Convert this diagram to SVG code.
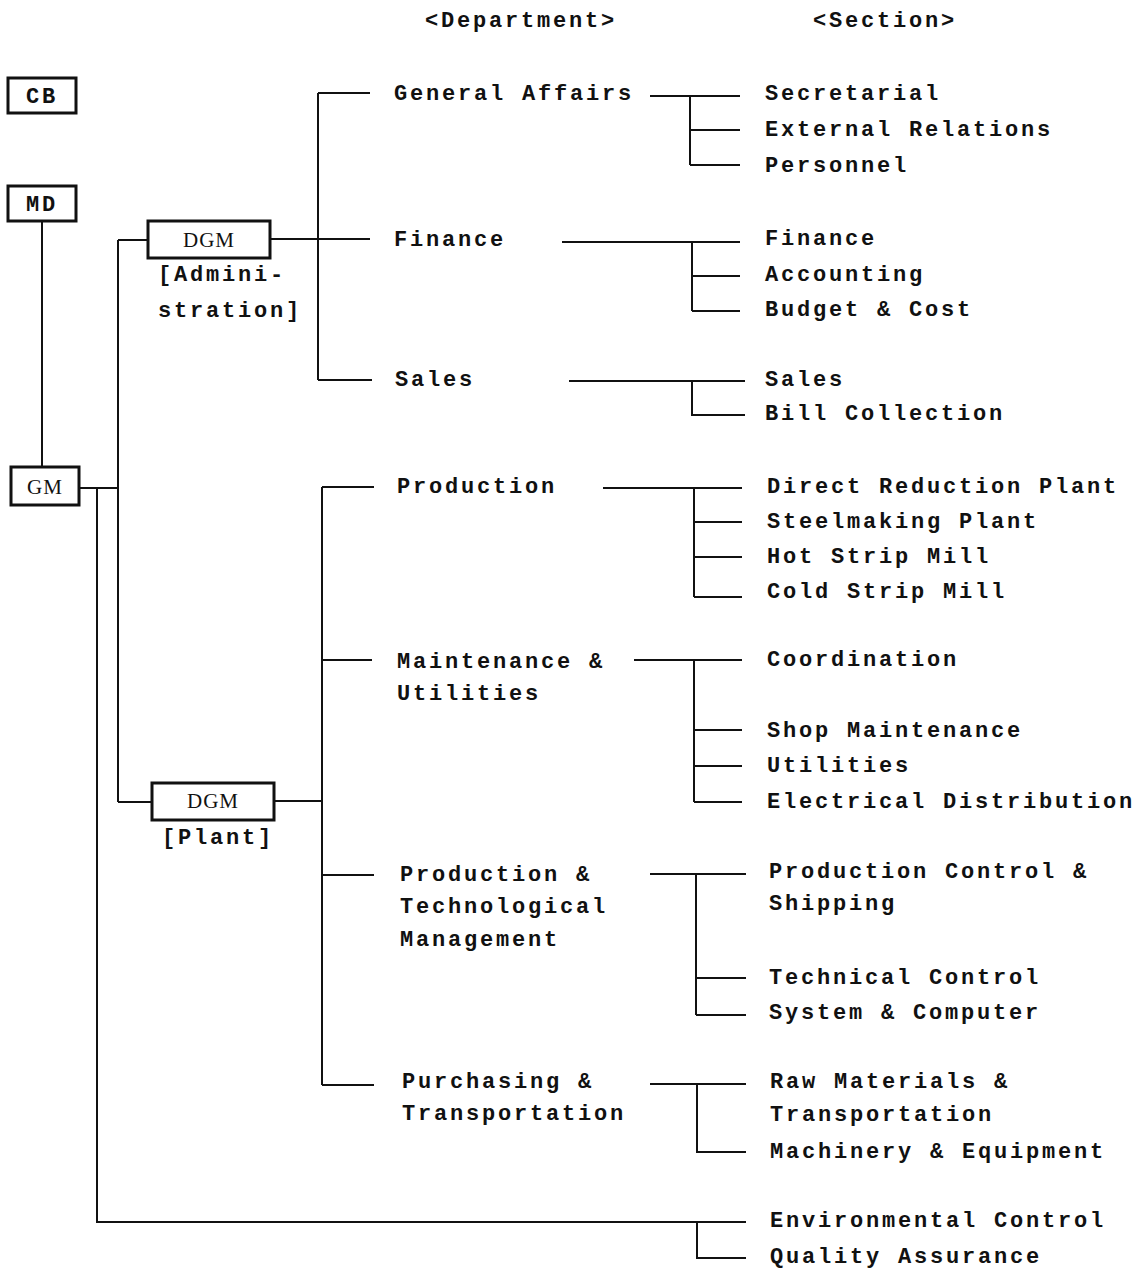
<svg xmlns="http://www.w3.org/2000/svg" width="1144" height="1269" viewBox="0 0 1144 1269">
<style>
text{font-family:"Liberation Mono",monospace;font-weight:bold;font-size:22px;letter-spacing:2.8px;fill:#111}
.s{font-family:"Liberation Serif",serif;font-weight:normal;font-size:21px;letter-spacing:1px}
.box{fill:#fff;stroke:#111;stroke-width:3}
#connectors path{fill:none;stroke:#111;stroke-width:2}
</style>
<rect width="1144" height="1269" fill="#fff"/>
<g id="connectors">
<path d="M42 221V466"/>
<path d="M79 488H118M118 240V802M118 240H148M118 802H152"/>
<path d="M97 488V1222H746M697 1222V1258H746"/>
<path d="M270 239H370M318 93V380M318 93H370M318 380H372"/>
<path d="M650 96H740M690 96V165M690 130H740M690 165H740"/>
<path d="M562 242H740M692 242V311M692 276H740M692 311H740"/>
<path d="M569 381H745M692 381V415H745"/>
<path d="M274 801H322M322 487V1085M322 487H374M322 660H372M322 875H374M322 1085H374"/>
<path d="M603 488H742M694 488V597M694 522H742M694 557H742M694 597H742"/>
<path d="M634 660H742M694 660V802M694 730H742M694 766H742M694 802H742"/>
<path d="M650 874H746M696 874V1015M696 978H746M696 1015H746"/>
<path d="M650 1084H746M697 1084V1152H746"/>
</g>
<g id="headers">
<text x="425" y="27">&lt;Department&gt;</text>
<text x="813" y="27">&lt;Section&gt;</text>
</g>
<g id="CB"><rect class="box" x="8" y="78" width="68" height="35"/><text x="42" y="103" text-anchor="middle" letter-spacing="1">CB</text></g>
<g id="MD"><rect class="box" x="8" y="186" width="68" height="35"/><text x="42" y="211" text-anchor="middle" letter-spacing="1">MD</text></g>
<g id="GM"><rect class="box" x="11" y="467" width="68" height="38"/><text class="s" x="45" y="494" text-anchor="middle">GM</text></g>
<g id="DGM-admin"><rect class="box" x="148" y="221" width="122" height="37"/><text class="s" x="209" y="247" text-anchor="middle">DGM</text><text x="158" y="281">[Admini-</text><text x="158" y="317">stration]</text></g>
<g id="DGM-plant"><rect class="box" x="152" y="783" width="122" height="37"/><text class="s" x="213" y="808" text-anchor="middle">DGM</text><text x="162" y="844">[Plant]</text></g>
<g id="dept-general"><text x="394" y="100">General Affairs</text></g>
<g id="dept-finance"><text x="394" y="246">Finance</text></g>
<g id="dept-sales"><text x="395" y="386">Sales</text></g>
<g id="dept-production"><text x="397" y="493">Production</text></g>
<g id="dept-maint"><text x="397" y="668">Maintenance &amp;</text><text x="397" y="700">Utilities</text></g>
<g id="dept-ptm"><text x="400" y="881">Production &amp;</text><text x="400" y="913">Technological</text><text x="400" y="946">Management</text></g>
<g id="dept-purch"><text x="402" y="1088">Purchasing &amp;</text><text x="402" y="1120">Transportation</text></g>
<g id="sections">
<text x="765" y="100">Secretarial</text>
<text x="765" y="136">External Relations</text>
<text x="765" y="172">Personnel</text>
<text x="765" y="245">Finance</text>
<text x="765" y="281">Accounting</text>
<text x="765" y="316">Budget &amp; Cost</text>
<text x="765" y="386">Sales</text>
<text x="765" y="420">Bill Collection</text>
<text x="767" y="493">Direct Reduction Plant</text>
<text x="767" y="528">Steelmaking Plant</text>
<text x="767" y="563">Hot Strip Mill</text>
<text x="767" y="598">Cold Strip Mill</text>
<text x="767" y="666">Coordination</text>
<text x="767" y="737">Shop Maintenance</text>
<text x="767" y="772">Utilities</text>
<text x="767" y="808">Electrical Distribution</text>
<text x="769" y="878">Production Control &amp;</text>
<text x="769" y="910">Shipping</text>
<text x="769" y="984">Technical Control</text>
<text x="769" y="1019">System &amp; Computer</text>
<text x="770" y="1088">Raw Materials &amp;</text>
<text x="770" y="1121">Transportation</text>
<text x="770" y="1158">Machinery &amp; Equipment</text>
<text x="770" y="1227">Environmental Control</text>
<text x="770" y="1263">Quality Assurance</text>
</g>
</svg>
